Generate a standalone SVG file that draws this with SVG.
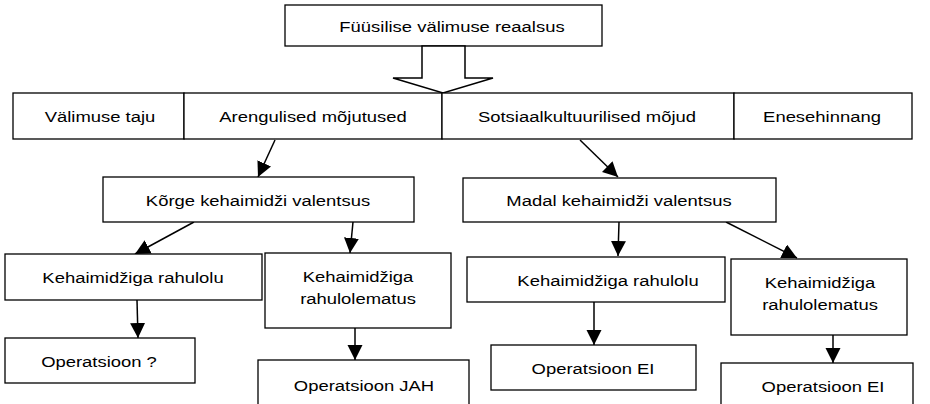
<svg xmlns="http://www.w3.org/2000/svg" width="930" height="404" viewBox="0 0 930 404">
<style>
  .box { fill: #ffffff; stroke: #000000; stroke-width: 1.3; }
  .lbl { font-family: "Liberation Sans", Arial, sans-serif; font-size: 15.5px; fill: #000000; text-anchor: middle; }
  .con { stroke: #000000; stroke-width: 1.5; fill: none; marker-end: url(#ah); }
</style>
<defs>
  <marker id="ah" markerUnits="userSpaceOnUse" markerWidth="16" markerHeight="16" viewBox="0 0 16 16" refX="15" refY="7.5" orient="auto">
    <path d="M0,0 L15,7.5 L0,15 z" fill="#000000"/>
  </marker>
</defs>
<rect width="930" height="404" fill="#ffffff"/>

<g id="top">
  <rect class="box" x="285" y="5" width="317" height="41"/>
  <text class="lbl" transform="translate(452,32) scale(1.19,1)">Füüsilise välimuse reaalsus</text>
</g>

<g id="connectors">
  <polygon points="422,46 422,78 393,78 443,93 493,78 465,78 465,46" fill="#ffffff" stroke="#000000" stroke-width="1.5"/>
  <line class="con" x1="275" y1="140" x2="258" y2="177"/>
  <line class="con" x1="580" y1="140" x2="618" y2="177"/>
  <line class="con" x1="194" y1="222" x2="135" y2="254"/>
  <line class="con" x1="353" y1="222" x2="350" y2="253"/>
  <line class="con" x1="619" y1="222" x2="618" y2="256"/>
  <line class="con" x1="726" y1="222" x2="797" y2="258"/>
  <line class="con" x1="137" y1="300" x2="138" y2="338"/>
  <line class="con" x1="355" y1="328" x2="355" y2="360"/>
  <line class="con" x1="594" y1="302" x2="594" y2="345"/>
  <line class="con" x1="833" y1="335" x2="833" y2="363"/>
</g>

<g id="valimuse-taju">
  <rect class="box" x="13" y="93" width="171" height="46"/>
  <text class="lbl" transform="translate(100,122) scale(1.19,1)">Välimuse taju</text>
</g>
<g id="arengulised">
  <rect class="box" x="184" y="93" width="258" height="46"/>
  <text class="lbl" transform="translate(313,122) scale(1.19,1)">Arengulised mõjutused</text>
</g>
<g id="sotsiaal">
  <rect class="box" x="442" y="93" width="292" height="46"/>
  <text class="lbl" transform="translate(587,122) scale(1.19,1)">Sotsiaalkultuurilised mõjud</text>
</g>
<g id="enesehinnang">
  <rect class="box" x="734" y="93" width="178" height="46"/>
  <text class="lbl" transform="translate(822,122) scale(1.19,1)">Enesehinnang</text>
</g>

<g id="korge">
  <rect class="box" x="103" y="177" width="311" height="45"/>
  <text class="lbl" transform="translate(258,206) scale(1.19,1)">Kõrge kehaimidži valentsus</text>
</g>
<g id="madal">
  <rect class="box" x="463" y="178" width="313" height="44"/>
  <text class="lbl" transform="translate(619,206) scale(1.19,1)">Madal kehaimidži valentsus</text>
</g>

<g id="k-rahulolu-1">
  <rect class="box" x="5" y="254" width="257" height="46"/>
  <text class="lbl" transform="translate(133,283) scale(1.19,1)">Kehaimidžiga rahulolu</text>
</g>
<g id="k-rahulolematus-1">
  <rect class="box" x="265" y="253" width="186" height="75"/>
  <text class="lbl" transform="translate(358,282) scale(1.19,1)">Kehaimidžiga</text>
  <text class="lbl" transform="translate(358,303.5) scale(1.19,1)">rahulolematus</text>
</g>
<g id="k-rahulolu-2">
  <rect class="box" x="467" y="257" width="258" height="45"/>
  <text class="lbl" transform="translate(608,285.5) scale(1.19,1)">Kehaimidžiga rahulolu</text>
</g>
<g id="k-rahulolematus-2">
  <rect class="box" x="731" y="259" width="176" height="76"/>
  <text class="lbl" transform="translate(820,288) scale(1.19,1)">Kehaimidžiga</text>
  <text class="lbl" transform="translate(820,309.5) scale(1.19,1)">rahulolematus</text>
</g>

<g id="op-kysimus">
  <rect class="box" x="5" y="338" width="190" height="45"/>
  <text class="lbl" transform="translate(99,366.5) scale(1.19,1)">Operatsioon ?</text>
</g>
<g id="op-jah">
  <rect class="box" x="258" y="360" width="211" height="60"/>
  <text class="lbl" transform="translate(364,391) scale(1.19,1)">Operatsioon JAH</text>
</g>
<g id="op-ei-1">
  <rect class="box" x="491" y="345" width="205" height="45"/>
  <text class="lbl" transform="translate(593,373.5) scale(1.19,1)">Operatsioon EI</text>
</g>
<g id="op-ei-2">
  <rect class="box" x="721" y="363" width="192" height="60"/>
  <text class="lbl" transform="translate(823,392) scale(1.19,1)">Operatsioon EI</text>
</g>
</svg>
